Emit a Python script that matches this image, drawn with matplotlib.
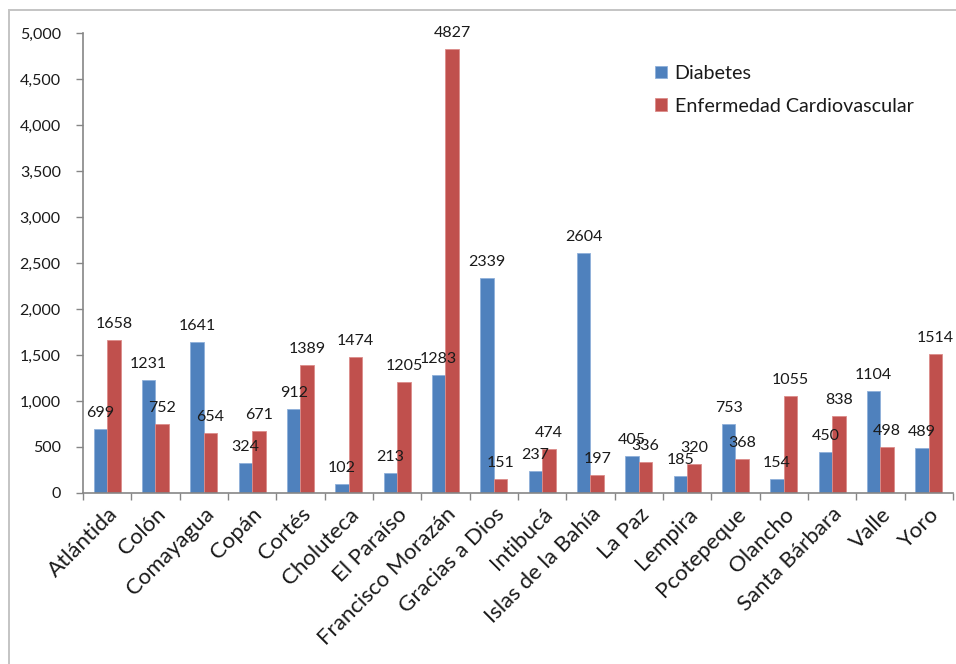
import matplotlib
matplotlib.use("Agg")
import matplotlib.pyplot as plt
from matplotlib.patches import Rectangle
from matplotlib.ticker import FuncFormatter, MultipleLocator
import numpy as np

plt.rcParams['font.family'] = ['Lato', 'DejaVu Sans']

departamentos = ["Atlántida", "Colón", "Comayagua", "Copán", "Cortés", "Choluteca",
                 "El Paraíso", "Francisco Morazán", "Gracias a Dios", "Intibucá",
                 "Islas de la Bahía", "La Paz", "Lempira", "Pcotepeque", "Olancho",
                 "Santa Bárbara", "Valle", "Yoro"]
diabetes = [699, 1231, 1641, 324, 912, 102, 213, 1283, 2339, 237,
            2604, 405, 185, 753, 154, 450, 1104, 489]
cardio = [1658, 752, 654, 671, 1389, 1474, 1205, 4827, 151, 474,
          197, 336, 320, 368, 1055, 838, 498, 1514]
series_names = ["Diabetes", "Enfermedad Cardiovascular"]

BLUE = "#4F81BD"
RED = "#C0504D"
AXIS = "#868686"
TEXT = "#1a1a1a"

fig = plt.figure(figsize=(9.56, 6.64), dpi=100)
ax = fig.add_axes([83 / 956, 1 - 493 / 664, 870 / 956, 460 / 664])

# outer chart-area border
fig.patches.append(Rectangle((9 / 956, -0.1), 2.0, (654 / 664) + 0.1,
                             transform=fig.transFigure, fill=False,
                             edgecolor="#C4C4C4", lw=1.4))

x = np.arange(len(departamentos))
w = 0.28
b1 = ax.bar(x - w / 2, diabetes, w, color=BLUE, edgecolor="#8FB0DA", lw=0.6,
            label=series_names[0])
b2 = ax.bar(x + w / 2, cardio, w, color=RED, edgecolor="#DC8C8A", lw=0.6,
            label=series_names[1])

for bars, vals in ((b1, diabetes), (b2, cardio)):
    for rect, v in zip(bars, vals):
        ax.annotate(str(v), (rect.get_x() + rect.get_width() / 2, v),
                    xytext=(0, 6.5), textcoords="offset points",
                    ha="center", va="bottom", fontsize=11.5, color=TEXT)

ax.set_xlim(-0.5, len(departamentos) - 0.5)
ax.set_ylim(0, 5000)
ax.yaxis.set_major_locator(MultipleLocator(500))
ax.yaxis.set_major_formatter(FuncFormatter(lambda v, p: f"{int(v):,}"))

ax.set_xticks(x)
ax.set_xticklabels(departamentos, rotation=45, ha="right", va="top",
                   rotation_mode="anchor", fontsize=16, color=TEXT)
ax.set_xticks(np.arange(len(departamentos) + 1) - 0.5, minor=True)
ax.tick_params(axis="x", which="major", length=0, pad=8)
ax.tick_params(axis="x", which="minor", length=5, color=AXIS, width=1)
ax.tick_params(axis="y", length=5, color=AXIS, width=1, labelsize=11.5,
               labelcolor=TEXT, pad=11)

for s in ("top", "right"):
    ax.spines[s].set_visible(False)
for s in ("left", "bottom"):
    ax.spines[s].set_color(AXIS)
    ax.spines[s].set_linewidth(1.2)

leg = fig.legend(loc="upper left", bbox_to_anchor=(645 / 956, 1 - 55 / 664),
                 frameon=False, fontsize=14.2, handlelength=0.6,
                 handleheight=0.6, handletextpad=0.4, labelspacing=0.8,
                 borderpad=0)
for t in leg.get_texts():
    t.set_color(TEXT)

fig.savefig("out.png", dpi=100)
